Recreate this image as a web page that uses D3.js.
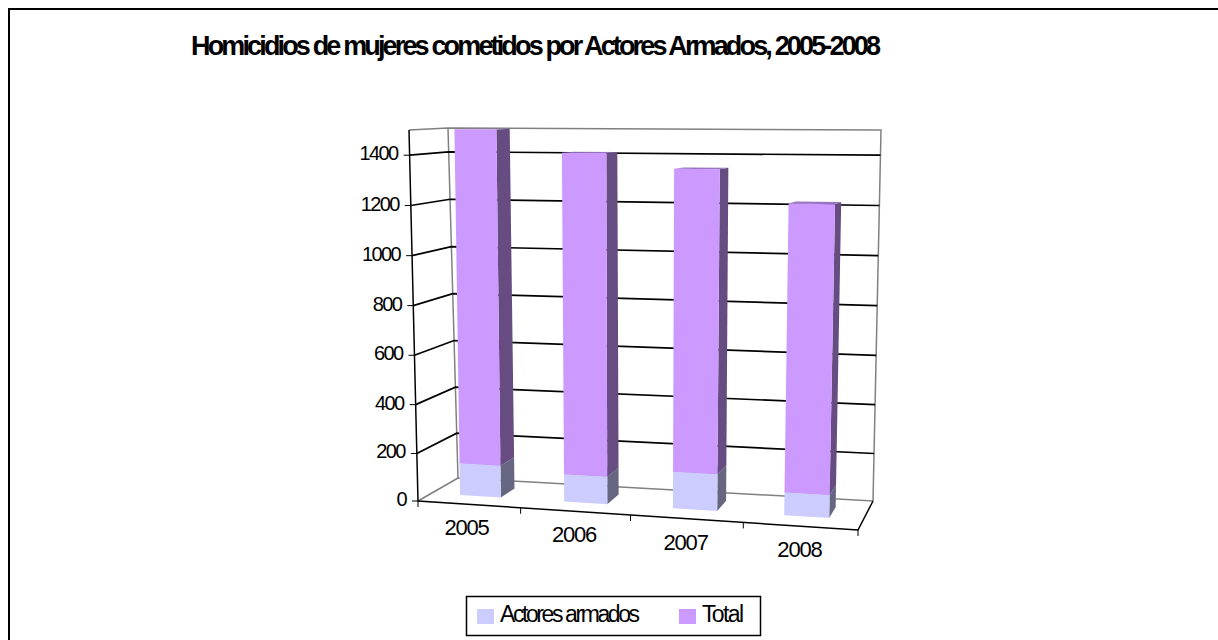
<!DOCTYPE html>
<html>
<head>
<meta charset="utf-8">
<title>Homicidios de mujeres</title>
<script src="https://cdnjs.cloudflare.com/ajax/libs/d3/7.8.5/d3.min.js"></script>
<style>
html, body { margin: 0; padding: 0; background: #fff; overflow: hidden; }
svg { display: block; }
text { font-family: "Liberation Sans", Arial, sans-serif; fill: #000; }
</style>
</head>
<body>
<svg width="1218" height="640"></svg>
<script>
// datos
var anios = ["2005", "2006", "2007", "2008"];
var actoresArmados = [136, 116, 151, 94];
var total = [1500, 1408, 1348, 1218];
var ticksValor = [0, 200, 400, 600, 800, 1000, 1200, 1400];
var series = ["Actores armados", "Total"];
var colores = ["#CCCCFF", "#CC99FF"];
var coloresLado = ["#666680", "#664C80"];
var coloresTecho = ["#9999BF", "#9975BF"];

var svg = d3.select("svg");

// esquinas de la caja 3D: [x, y] en pixeles
var caja = {
	fi0: [418, 501], fi1: [409, 130],
	fd0: [858, 530], fd1: [867, 130],
	ti0: [458, 478], ti1: [448, 128],
	td0: [873, 501], td1: [881, 130]
};

// en el original la rejilla se abre un poco hacia arriba
var escalaValor = d3.scalePow().exponent(1.02).domain([0, 1500]).range([0, 1]);
var escalaCategoria = d3.scaleBand().domain(anios).range([0, 1]).paddingInner(0.6).paddingOuter(0.3);
// la perspectiva abre un poco las categorias hacia la derecha
var escalaU = d3.scalePow().exponent(1.05).domain([0, 1]).range([0, 1]);

function mezcla(a, b, t) {
	return [a[0] + (b[0] - a[0]) * t, a[1] + (b[1] - a[1]) * t];
}

/*
PROYECTA (u, valor, w) SOBRE LA PANTALLA - u: 0 izquierda, 1 derecha - w: 0 frente, 1 fondo
*/
function proyecta(u, valor, w) {
	var v = escalaValor(valor);
	var uu = escalaU(u);
	var frente = mezcla(mezcla(caja.fi0, caja.fd0, uu), mezcla(caja.fi1, caja.fd1, uu), v);
	var fondo = mezcla(mezcla(caja.ti0, caja.td0, uu), mezcla(caja.ti1, caja.td1, uu), v);
	return mezcla(frente, fondo, w);
}

// las barras de la izquierda se inclinan menos que la pared
function proyectaBarra(u, valor, w) {
	var p = proyecta(u, valor, w);
	p[0] += 3 * escalaValor(valor) * (1 - u) * (1 - u);
	return p;
}

var linea = d3.line();

function dibujaLinea(puntos, color, ancho) {
	svg.append("path")
		.attr("d", linea(puntos))
		.attr("fill", "none")
		.attr("stroke", color)
		.attr("stroke-width", ancho);
}

// marco exterior
svg.append("path")
	.attr("d", "M9,640V9H1218")
	.attr("fill", "none")
	.attr("stroke", "#000")
	.attr("stroke-width", 2);

// titulo
svg.append("text")
	.attr("x", 191)
	.attr("y", 55)
	.attr("font-size", 27)
	.attr("font-weight", "bold")
	.attr("textLength", 690)
	.attr("lengthAdjust", "spacing")
	.text("Homicidios de mujeres cometidos por Actores Armados, 2005-2008");

// paredes
var tope = escalaValor.domain()[1];
dibujaLinea([proyecta(0, tope, 0), proyecta(0, tope, 1), proyecta(1, tope, 1), proyecta(1, 0, 1), proyecta(0, 0, 1), proyecta(0, tope, 1)], "#808080", 1.5);
dibujaLinea([proyecta(0, 0, 0), proyecta(0, 0, 1)], "#808080", 1.5);

// rejilla y marcas del eje de valores
ticksValor.forEach(function(d) {
	if (d > 0) {
		dibujaLinea([proyecta(0, d, 0), proyecta(0, d, 1), proyecta(1, d, 1)], "#000", 1.7);
	}
	var p = proyecta(0, d, 0);
	dibujaLinea([[p[0] - 6, p[1]], p], "#000", 1);
	svg.append("text")
		.attr("x", p[0] - 12)
		.attr("y", p[1] + 5)
		.attr("text-anchor", "end")
		.attr("font-size", 20)
		.attr("letter-spacing", -1.6)
		.text(d);
});

// barras apiladas
var frenteBarra = 0.34, fondoBarra = 0.72;
anios.forEach(function(anio, i) {
	var u0 = escalaCategoria(anio);
	var u1 = u0 + escalaCategoria.bandwidth();
	var tramos = [[0, actoresArmados[i]], [actoresArmados[i], total[i]]];
	tramos.forEach(function(t, s) {
		// lado derecho
		svg.append("path")
			.attr("d", linea([proyectaBarra(u1, t[0], frenteBarra), proyectaBarra(u1, t[0], fondoBarra), proyectaBarra(u1, t[1], fondoBarra), proyectaBarra(u1, t[1], frenteBarra)]) + "Z")
			.attr("fill", coloresLado[s]);
		// techo
		svg.append("path")
			.attr("d", linea([proyectaBarra(u0, t[1], frenteBarra), proyectaBarra(u1, t[1], frenteBarra), proyectaBarra(u1, t[1], fondoBarra), proyectaBarra(u0, t[1], fondoBarra)]) + "Z")
			.attr("fill", coloresTecho[s]);
		// frente
		svg.append("path")
			.attr("d", linea([proyectaBarra(u0, t[0], frenteBarra), proyectaBarra(u1, t[0], frenteBarra), proyectaBarra(u1, t[1], frenteBarra), proyectaBarra(u0, t[1], frenteBarra)]) + "Z")
			.attr("fill", colores[s]);
	});
});

// suelo: borde frontal, lado derecho y eje
dibujaLinea([proyecta(0, tope, 0), proyecta(0, 0, 0), proyecta(1, 0, 0), proyecta(1, 0, 1)], "#000", 1.5);
d3.range(0, anios.length + 1).forEach(function(i) {
	var p = proyecta(i / anios.length, 0, 0);
	dibujaLinea([p, [p[0], p[1] + 6]], "#000", 1);
});

// etiquetas del eje de categorias
anios.forEach(function(anio) {
	var p = proyecta(escalaCategoria(anio) + escalaCategoria.bandwidth() / 2, 0, 0);
	svg.append("text")
		.attr("x", p[0] - 1)
		.attr("y", p[1] + 31)
		.attr("text-anchor", "middle")
		.attr("font-size", 22)
		.attr("letter-spacing", -1.2)
		.text(anio);
});

// leyenda
svg.append("rect")
	.attr("x", 466.5).attr("y", 596.5)
	.attr("width", 294).attr("height", 39)
	.attr("fill", "#fff").attr("stroke", "#000").attr("stroke-width", 1.5);
var xLeyenda = [477, 679];
var xTexto = [500, 702];
var anchoTexto = [140, 42];
series.forEach(function(nombre, i) {
	svg.append("rect")
		.attr("x", xLeyenda[i]).attr("y", 609)
		.attr("width", 17).attr("height", 15)
		.attr("fill", colores[i]);
	svg.append("text")
		.attr("x", xTexto[i]).attr("y", 622)
		.attr("font-size", 23)
		.attr("textLength", anchoTexto[i])
		.attr("lengthAdjust", "spacing")
		.text(nombre);
});
</script>
</body>
</html>
